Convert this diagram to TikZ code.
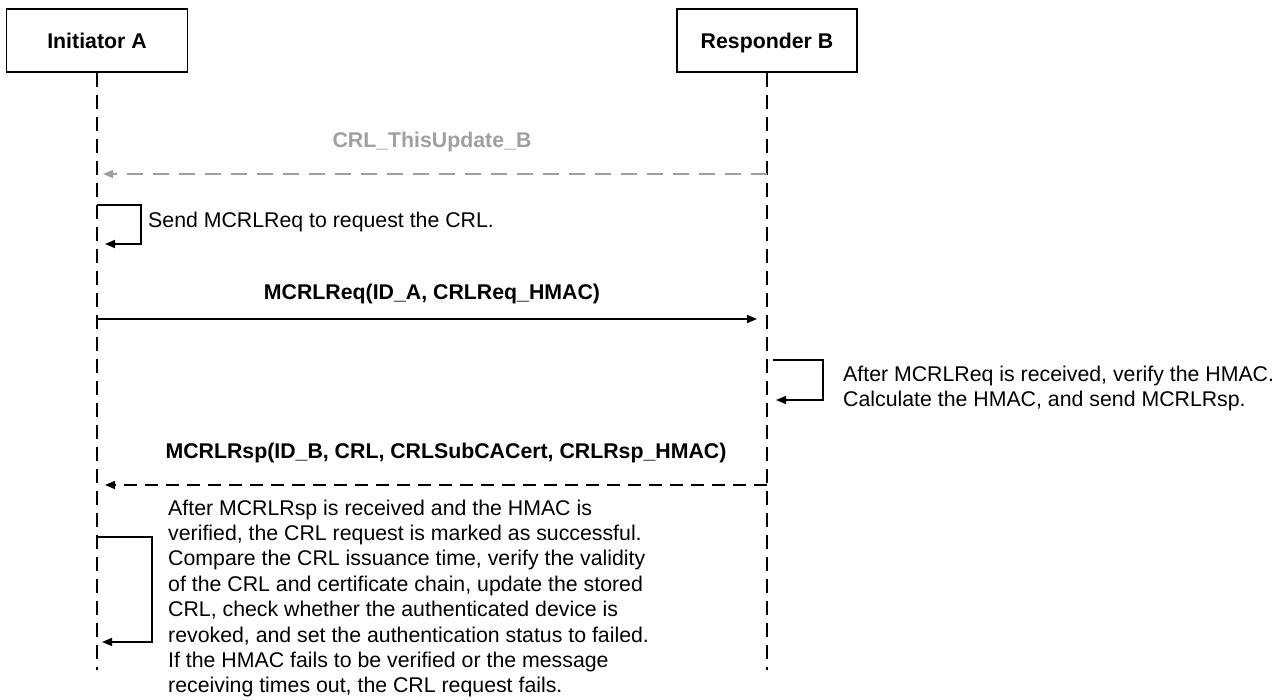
\documentclass[tikz,border=0pt]{standalone}
\usepackage{fontspec}
\setmainfont{Liberation Sans}
\usetikzlibrary{arrows.meta}
\definecolor{msggray}{HTML}{A0A0A0}
\newcommand{\seqfont}{\fontsize{21.3}{25.4}\selectfont}
\begin{document}
\begin{tikzpicture}[x=1pt,y=-1pt,
  every node/.style={font=\seqfont, inner sep=0pt},
  actor/.style={draw, line width=1.6pt, minimum width=181pt, minimum height=63pt,
    font=\seqfont\bfseries, text height=16pt, text depth=0pt},
  lifeline/.style={line width=1.4pt, dash pattern=on 14pt off 8pt},
  tip/.style={-{Triangle[length=10pt,width=8pt]}},
  sync/.style={tip, line width=1.6pt},
  reply/.style={tip, line width=1.6pt, dash pattern=on 13pt off 8pt},
  note/.style={align=left, anchor=north west},
  msglabel/.style={font=\seqfont\bfseries, anchor=base},
]
\useasboundingbox (0,0) rectangle (1288,700);

% participants
\node[actor] (A) at (97,40.5) {Initiator A};
\node[actor, minimum width=180pt] (B) at (767,40.5) {Responder B};

% lifelines
\coordinate (Aend) at (97,670);
\coordinate (Bend) at (767,670);
\draw[lifeline] (A.south) -- (Aend);
\draw[lifeline] (B.south) -- (Bend);

% CRL_ThisUpdate_B
\coordinate (a1) at (97,174);
\coordinate (b1) at (767,174);
\node[msglabel, text=msggray] (l1) at (432,148) {CRL\_ThisUpdate\_B};
\draw[tip, line width=1.6pt, msggray, dash pattern=on 16pt off 10pt, shorten >=6pt] (b1) -- (a1);

% A sends the request to itself
\coordinate (a2) at (97,205);
\coordinate (a3) at (97,244);
\draw[sync, shorten >=8pt] (a2) -- ++(44,0) |- (a3);
\node[anchor=base west] (t1) at (148,228) {Send MCRLReq to request the CRL.};

% MCRLReq
\coordinate (a4) at (97,319);
\coordinate (b4) at (767,319);
\node[msglabel] (l2) at (432,300) {MCRLReq(ID\_A, CRLReq\_HMAC)};
\draw[sync, shorten >=10pt] (a4) -- (b4);

% B verifies and answers
\coordinate (b5) at (767,360);
\coordinate (b6) at (767,400);
\draw[sync, shorten <=6pt, shorten >=9pt] (b5) -- ++(56,0) |- (b6);
\node[note] (t2) at (843,365.5) {After MCRLReq is received, verify the HMAC.\\Calculate the HMAC, and send MCRLRsp.};

% MCRLRsp
\coordinate (a7) at (97,485);
\coordinate (b7) at (767,485);
\node[msglabel] (l3) at (446,458) {MCRLRsp(ID\_B, CRL, CRLSubCACert, CRLRsp\_HMAC)};
\draw[reply, shorten >=8pt] (b7) -- (a7);

% A processes the response
\coordinate (a8) at (97,537);
\coordinate (a9) at (97,642);
\draw[sync, shorten >=5pt] (a8) -- ++(55,0) |- (a9);
\node[note] (t3) at (168,499.5) {After MCRLRsp is received and the HMAC is\\
verified, the CRL request is marked as successful.\\
Compare the CRL issuance time, verify the validity\\
of the CRL and certificate chain, update the stored\\
CRL, check whether the authenticated device is\\
revoked, and set the authentication status to failed.\\
If the HMAC fails to be verified or the message\\
receiving times out, the CRL request fails.};
\end{tikzpicture}
\end{document}
